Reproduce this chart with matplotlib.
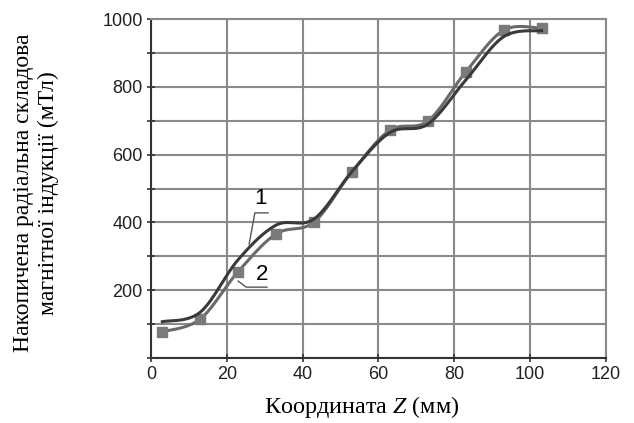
import numpy as np
import matplotlib.pyplot as plt

plt.rcParams['mathtext.fontset'] = 'custom'
plt.rcParams['mathtext.it'] = 'Liberation Serif:italic'
plt.rcParams['mathtext.rm'] = 'Liberation Serif'

# measured points
z = [3, 13, 23, 33, 43, 53, 63, 73, 83, 93, 103]
b1 = [107, 135, 290, 392, 410, 550, 665, 690, 820, 948, 966]
b2 = [77, 115, 255, 366, 401, 549, 672, 699, 844, 967, 973]

yticks_major = [200, 400, 600, 800, 1000]


def smooth(x, y, n=30):
    # Catmull-Rom, like the "smoothed line" option in spreadsheets
    p = np.column_stack([x, y]).astype(float)
    p = np.vstack([p[0], p, p[-1]])
    t = np.linspace(0, 1, n)[:, None]
    out = []
    for i in range(1, len(p) - 2):
        p0, p1, p2, p3 = p[i - 1], p[i], p[i + 1], p[i + 2]
        seg = 0.5 * ((2 * p1) + (-p0 + p2) * t + (2 * p0 - 5 * p1 + 4 * p2 - p3) * t**2
                     + (-p0 + 3 * p1 - 3 * p2 + p3) * t**3)
        out.append(seg)
    out = np.vstack(out)
    return out[:, 0], out[:, 1]


fig = plt.figure(figsize=(6.34, 4.23), dpi=100)
ax = fig.add_axes([0.238, 0.1537, 0.718, 0.8013])

ax.set_xlim(0, 120)
ax.set_ylim(0, 1000)
ax.set_xticks(range(0, 121, 20))
ax.set_yticks(range(0, 1001, 100))
ax.set_yticklabels(['' if v not in yticks_major else str(v) for v in range(0, 1001, 100)])
ax.grid(True, color='#8a8a8a', linewidth=1.5)
ax.set_axisbelow(True)

for s in ax.spines.values():
    s.set_color('#8a8a8a')
    s.set_linewidth(1.5)
ax.spines['left'].set_color('#333333')
ax.spines['bottom'].set_color('#333333')

ax.tick_params(axis='both', direction='inout', length=6, width=1.2, color='#333333',
               labelsize=13, labelcolor='#222222', pad=3)
for lab in ax.get_xticklabels() + ax.get_yticklabels():
    lab.set_fontfamily('Liberation Sans')

xs, ys = smooth(z, b2)
ax.plot(xs, ys, color='#6a6a6a', linewidth=2.2, zorder=3)
ax.plot(z, b2, 's', color='#7a7a7a', markersize=7, zorder=4)
xs, ys = smooth(z, b1)
ax.plot(xs, ys, color='#3a3a3a', linewidth=2.2, zorder=5)

# curve labels with leaders
ax.plot([25.9, 27.4, 30.9], [336, 428, 428], color='#555555', linewidth=1, zorder=6)
ax.text(29.0, 440, '1', fontsize=16, family='Liberation Sans', ha='center', va='bottom')
ax.plot([23.0, 25.1, 30.6], [227, 209, 209], color='#555555', linewidth=1, zorder=6)
ax.text(29.3, 215, '2', fontsize=16, family='Liberation Sans', ha='center', va='bottom')

fig.text(0.57, 0.038, 'Координата $\\it{Z}$ (мм)', fontsize=17.4, family='Liberation Serif',
         ha='center', va='center')
fig.text(0.057, 0.544, 'Накопичена радіальна складова\nмагнітної індукції (мТл)',
         rotation=90, ha='center', va='center', fontsize=17, family='Liberation Serif',
         linespacing=1.2)

fig.savefig('out.png', dpi=100)
